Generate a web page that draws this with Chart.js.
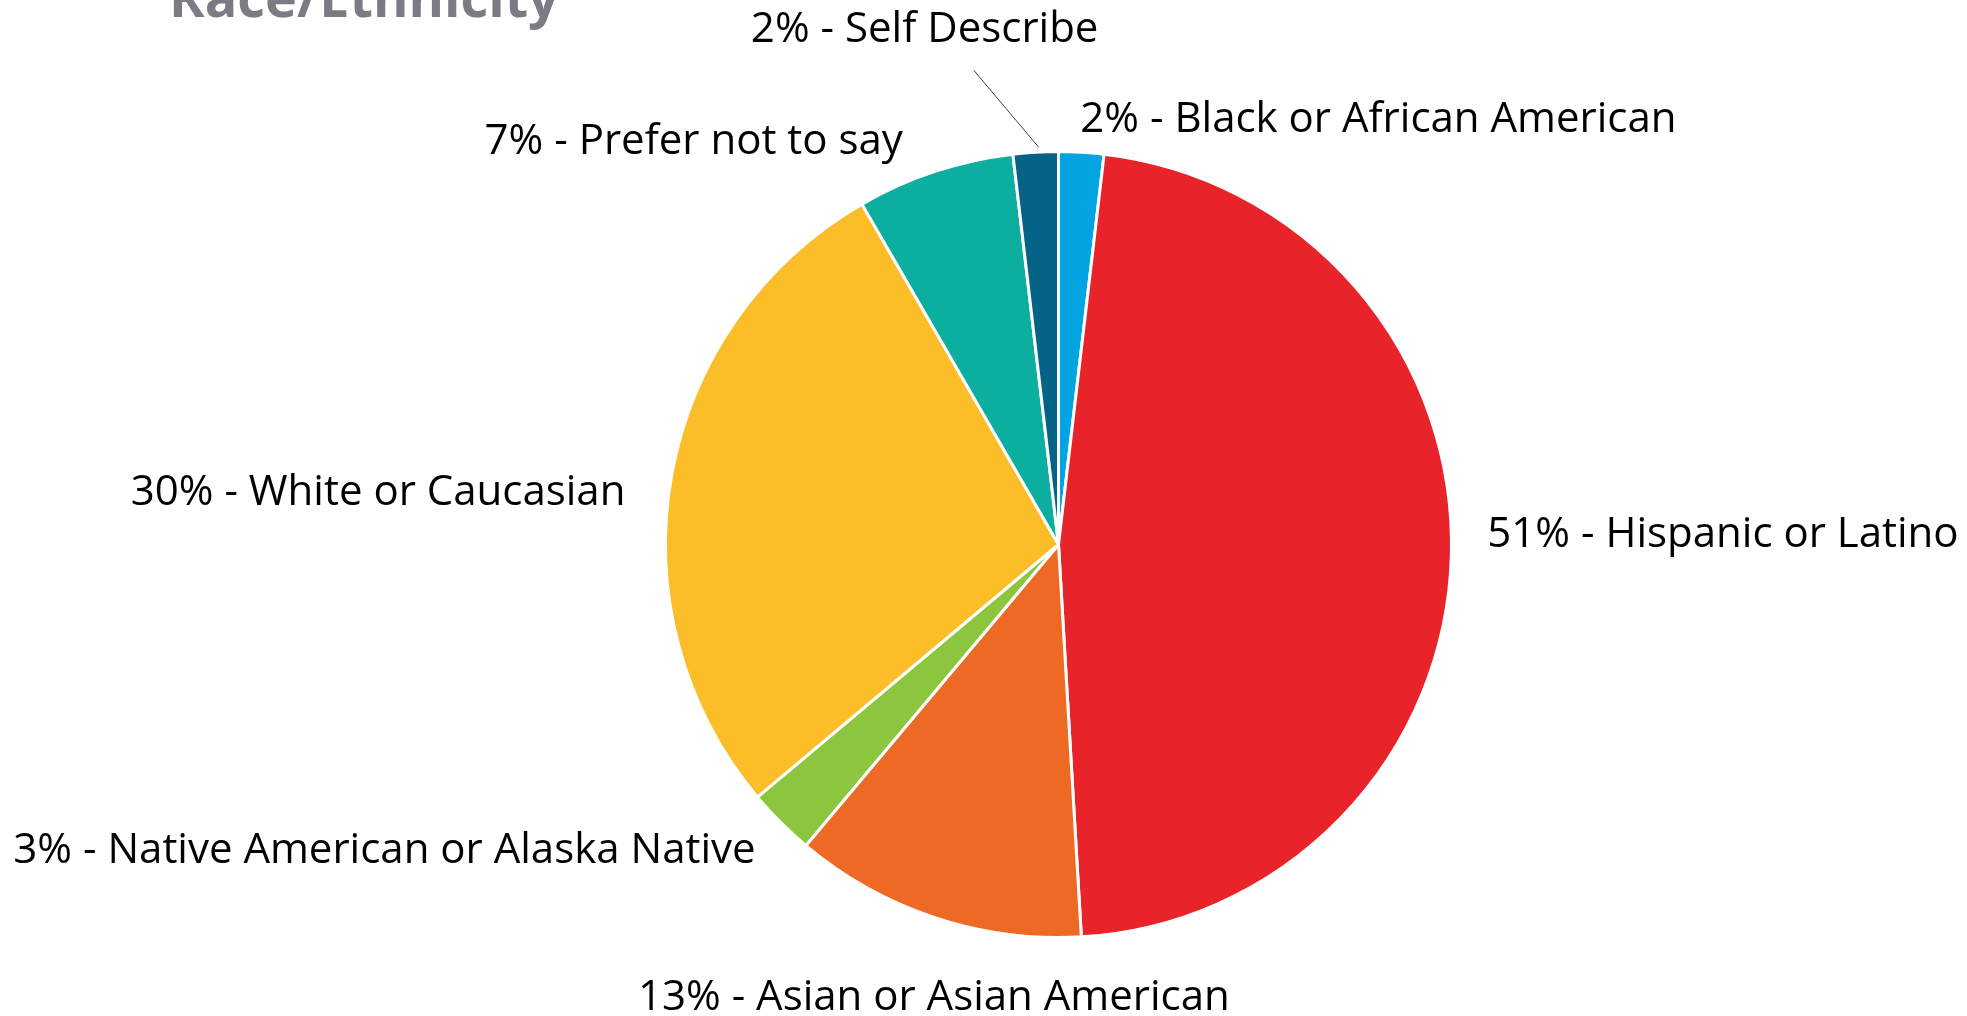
<!DOCTYPE html>
<html>
<head>
<meta charset="utf-8">
<title>Race/Ethnicity</title>
<script src="https://cdn.jsdelivr.net/npm/chart.js@4/dist/chart.umd.min.js"></script>
<style>
  html, body { margin: 0; padding: 0; background: #ffffff; }
  #wrap { width: 1967px; height: 1016px; position: relative; }
</style>
</head>
<body>
<div id="wrap"><canvas id="chart-race"></canvas></div>
<script>
// Survey responses, in slice order (clockwise from 12 o'clock)
const categories = [
  'Black or African American',
  'Hispanic or Latino',
  'Asian or Asian American',
  'Native American or Alaska Native',
  'White or Caucasian',
  'Prefer not to say',
  'Self Describe'
];
const percents = [2, 51, 13, 3, 30, 7, 2];
const sliceColors = ['#03a4e1', '#e8232a', '#ee6a24', '#8cc63f', '#fbbd28', '#0caf9f', '#056387'];

// where each label sits relative to the outer midpoint of its slice
const labelPlacement = [
  { align: 'left',   dx: -1,   dy: -20 },
  { align: 'left',   dx: 36,   dy: -9 },
  { align: 'center', dx: -1,   dy: 92 },
  { align: 'right',  dx: -25,  dy: 41 },
  { align: 'right',  dx: -46,  dy: 29 },
  { align: 'right',  dx: -32,  dy: -17 },
  { align: 'center', dx: -111, dy: -110, leader: true }
];

const sliceLabels = {
  id: 'sliceLabels',
  afterDatasetsDraw(chart) {
    const ctx = chart.ctx;
    const meta = chart.getDatasetMeta(0);
    ctx.save();

    // heading, mostly clipped by the top edge
    ctx.font = 'bold 54px "Open Sans", sans-serif';
    ctx.fillStyle = '#7b7b83';
    ctx.textAlign = 'left';
    ctx.textBaseline = 'alphabetic';
    ctx.fillText('Race/Ethnicity', 169, 17);

    ctx.font = '42px "Open Sans", sans-serif';
    ctx.fillStyle = '#000000';
    meta.data.forEach((arc, i) => {
      const p = arc.getProps(['x', 'y', 'startAngle', 'endAngle', 'outerRadius'], true);
      const mid = (p.startAngle + p.endAngle) / 2;
      const ax = p.x + Math.cos(mid) * p.outerRadius;
      const ay = p.y + Math.sin(mid) * p.outerRadius;
      const place = labelPlacement[i];
      const tx = ax + place.dx;
      const ty = ay + place.dy;

      if (place.leader) {
        ctx.strokeStyle = '#404040';
        ctx.lineWidth = 1;
        ctx.beginPath();
        ctx.moveTo(ax + 3, ay - 5);
        ctx.lineTo(ax - 62, ay - 82);
        ctx.stroke();
      }

      ctx.textAlign = place.align;
      ctx.fillText(percents[i] + '% - ' + categories[i], tx, ty);
    });
    ctx.restore();
  }
};

new Chart(document.getElementById('chart-race'), {
  type: 'pie',
  data: {
    labels: categories,
    datasets: [{
      data: percents,
      backgroundColor: sliceColors,
      borderColor: '#ffffff',
      borderWidth: 3
    }]
  },
  options: {
    responsive: true,
    maintainAspectRatio: false,
    animation: false,
    radius: 393,
    layout: {
      padding: { left: 150, right: 0, top: 73, bottom: 0 }
    },
    plugins: {
      legend: { display: false },
      tooltip: { enabled: false },
      title: { display: false }
    }
  },
  plugins: [sliceLabels]
});
</script>
</body>
</html>
